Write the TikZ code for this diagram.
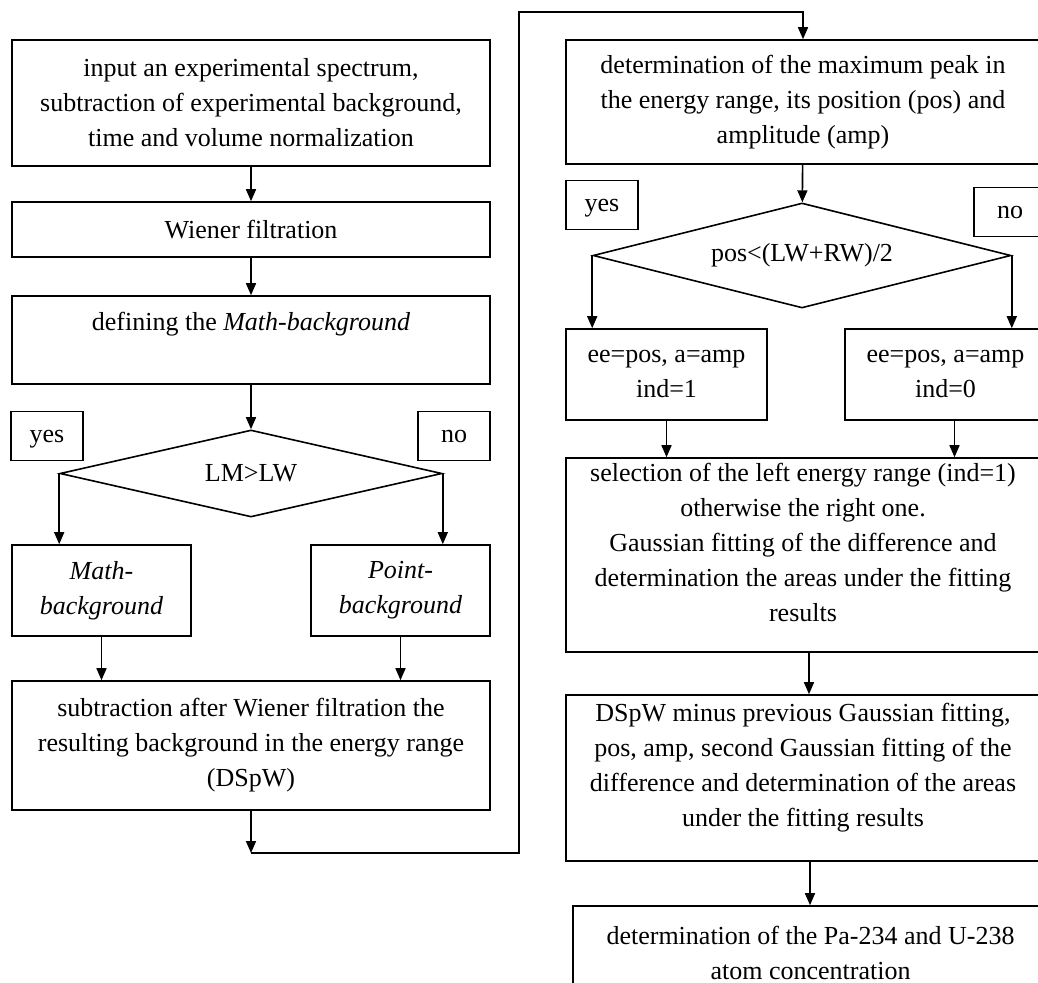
\documentclass[tikz,border=0pt]{standalone}
\usepackage{fontspec}
\setmainfont{Liberation Serif}
\usetikzlibrary{shapes.geometric,arrows.meta}
\begin{document}
\begin{tikzpicture}[x=0.5pt,y=-0.5pt,
  every node/.style={font=\fontsize{13}{17.5}\selectfont},
  stepbox/.style={draw,line width=0.8pt,align=center,inner sep=0pt},
  choice/.style={draw,diamond,line width=0.8pt,inner sep=0pt},
  flag/.style={stepbox,minimum width=36pt,minimum height=24.5pt,text depth=0pt},
  flow/.style={line width=0.8pt,-{Triangle[length=6pt,width=5pt]}}]
\useasboundingbox (0,0) rectangle (1038,983);
\clip (0,0) rectangle (1038,983);
% left column
\node[stepbox,minimum width=239pt,minimum height=63pt] (input) at (251,103)
  {input an experimental spectrum,\\subtraction of experimental background,\\time and volume normalization};
\node[stepbox,minimum width=239pt,minimum height=27.5pt] (wiener) at (251,229.5) {Wiener filtration};
\node[stepbox,minimum width=239pt,minimum height=44pt] (define) at (251,340)
  {defining the \textit{Math-background}\\[1pt]\mbox{}};
\node[choice,aspect=4.4,minimum width=191pt,minimum height=43.5pt] (lmlw) at (251,473.5) {LM>LW};
\node[flag] (yesL) at (47,436) {yes};
\node[flag] (noL) at (454,436) {no};
\node[stepbox,minimum width=89.5pt,minimum height=45.5pt] (mathbg) at (101.5,590.5)
  {\textit{Math-}\\\textit{background}};
\node[stepbox,minimum width=89.5pt,minimum height=45.5pt] (pointbg) at (400.5,590.5)
  {\textit{Point-}\\\textit{background}};
\node[stepbox,minimum width=239pt,minimum height=64.5pt] (subtr) at (251,745.5)
  {subtraction after Wiener filtration the\\resulting background in the energy range\\(DSpW)};
\coordinate (turnA) at (251,853);
\coordinate (turnB) at (519,12);
% right column
\node[stepbox,minimum width=237pt,minimum height=62pt] (peak) at (803,102)
  {determination of the maximum peak in\\the energy range, its position (pos) and\\amplitude (amp)};
\node[choice,aspect=4,minimum width=209pt,minimum height=52.5pt] (half) at (802,255.5) {pos<(LW+RW)/2};
\node[flag] (yesR) at (602,205) {yes};
\node[flag] (noR) at (1010,212) {no};
\node[stepbox,minimum width=100.5pt,minimum height=45.5pt] (left) at (666.5,374.5)
  {ee=pos, a=amp\\ind=1};
\node[stepbox,minimum width=100.5pt,minimum height=45.5pt] (right) at (945.5,374.5)
  {ee=pos, a=amp\\ind=0};
\node[stepbox,minimum width=237pt,minimum height=97pt] (select) at (803,555)
  {selection of the left energy range (ind=1)\\otherwise the right one.\\Gaussian fitting of the difference and\\determination the areas under the fitting\\results\\[-5pt]\mbox{}};
\node[stepbox,minimum width=237pt,minimum height=83pt] (dspw) at (803,778)
  {DSpW minus previous Gaussian fitting,\\pos, amp, second Gaussian fitting of the\\difference and determination of the areas\\under the fitting results\\[-4pt]\mbox{}};
\node[stepbox,minimum width=237.5pt,minimum height=47pt] (atoms) at (810.5,953)
  {determination of the Pa-234 and U-238\\atom concentration};
% connectors
\draw[flow] (input) -- (wiener);
\draw[flow] (wiener) -- (define);
\draw[flow] (define) -- (lmlw);
\draw[flow] (lmlw.west) -- (lmlw.west |- mathbg.north);
\draw[flow] (lmlw.east) -- (lmlw.east |- pointbg.north);
\draw[flow] (mathbg) -- (mathbg |- subtr.north);
\draw[flow] (pointbg) -- (pointbg |- subtr.north);
\draw[flow] (subtr) -- (turnA);
\draw[flow] (turnA) -| (turnB) -| (peak.north);
\draw[flow] (peak) -- (half);
\draw[flow] (half.west) -- (half.west |- left.north);
\draw[flow] (half.east) -- (half.east |- right.north);
\draw[flow] (left) -- (left |- select.north);
\draw[flow] ([xshift=4.5pt]right.south) -- ([xshift=4.5pt]right.south |- select.north);
\draw[flow] ([xshift=3pt]select.south) -- ([xshift=3pt]select.south |- dspw.north);
\draw[flow] ([xshift=3.5pt]dspw.south) -- ([xshift=3.5pt]dspw.south |- atoms.north);
\end{tikzpicture}
\end{document}
